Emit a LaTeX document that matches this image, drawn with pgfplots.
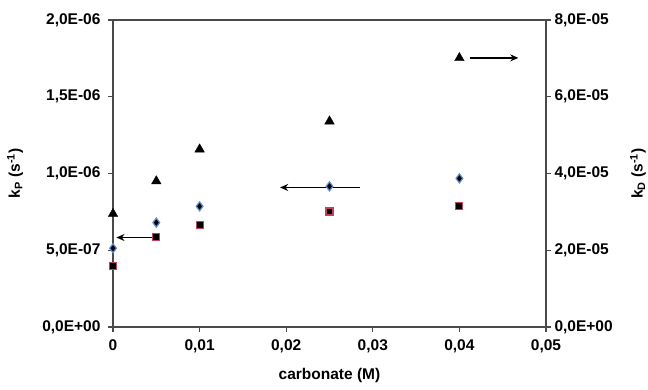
\documentclass[border=0pt]{standalone}
\usepackage{pgfplots}
\pgfplotsset{compat=1.18}
\usepackage{fontspec}
\setmainfont{Liberation Sans}
\usetikzlibrary{arrows.meta}
\definecolor{axgray}{HTML}{4A4A4A}
\definecolor{dblue}{HTML}{5B8FD0}
\definecolor{sqred}{HTML}{C04060}
\begin{document}
\begin{tikzpicture}
\pgfplotsset{every axis/.append style={
  scale only axis, width=433pt, height=307pt,
  xmin=0, xmax=0.05,
  scaled ticks=false,
  axis line style={axgray, line width=1.5pt},
  every tick/.style={axgray, line width=1.2pt},
  major tick length=5pt,
  tick align=outside,
  tick label style={font=\fontsize{15.5}{17}\selectfont\bfseries},
  label style={font=\fontsize{15.5}{17}\selectfont\bfseries},
}}
\begin{axis}[
  axis y line*=left, axis x line*=bottom,
  ymin=0, ymax=2e-6,
  ytick={0,5e-7,1e-6,1.5e-6,2e-6},
  yticklabels={{0,0E+00},{5,0E-07},{1,0E-06},{1,5E-06},{2,0E-06}},
  xtick={0,0.01,0.02,0.03,0.04,0.05},
  xticklabels={0,{0,01},{0,02},{0,03},{0,04},{0,05}},
  yticklabel style={xshift=-4pt},
  xticklabel style={yshift=-4pt},
  xlabel={carbonate (M)},
  ylabel={k\textsubscript{P} (s\textsuperscript{-1})},
  ylabel style={at={(rel axis cs:-0.2263,0.5)}, anchor=center},
  xlabel style={at={(rel axis cs:0.5,-0.1596)}, anchor=center},
  clip=false,
]
\coordinate (bl) at (axis cs:-0.01305,-0.4104e-6);
\coordinate (tr) at (axis cs:0.06178,2.1303e-6);
\addplot[only marks, mark=diamond*, mark size=4.5pt, mark options={fill=black, draw=dblue, line width=1.2pt}]
  coordinates {(0,0.513e-6) (0.005,0.68e-6) (0.01,0.786e-6) (0.025,0.916e-6) (0.04,0.968e-6)};
\addplot[only marks, mark=square*, mark size=3.5pt, mark options={fill=black, draw=sqred, line width=1.2pt}]
  coordinates {(0,0.396e-6) (0.005,0.584e-6) (0.01,0.662e-6) (0.025,0.753e-6) (0.04,0.786e-6)};
\draw[-{Stealth[length=8pt,width=7pt]}, line width=1.5pt] (axis cs:0.0054,0.583e-6) -- (axis cs:0.0004,0.583e-6);
\draw[-{Stealth[length=8pt,width=7pt]}, line width=1.5pt] (axis cs:0.0285,0.909e-6) -- (axis cs:0.0193,0.909e-6);
\draw[-{Stealth[length=8pt,width=7pt]}, line width=1.5pt] (axis cs:0.0412,1.753e-6) -- (axis cs:0.0468,1.753e-6);
\end{axis}
\begin{axis}[
  axis y line*=right, axis x line*=top,
  xtick=\empty,
  ymin=0, ymax=8e-5,
  ytick={0,2e-5,4e-5,6e-5,8e-5},
  yticklabels={{0,0E+00},{2,0E-05},{4,0E-05},{6,0E-05},{8,0E-05}},
  yticklabel style={xshift=0pt},
  ylabel={k\textsubscript{D} (s\textsuperscript{-1})},
  ylabel style={at={(rel axis cs:1.2125,0.5)}, anchor=center},
]
\addplot[only marks, mark=triangle*, mark size=5.5pt, mark options={fill=black, draw=black}]
  coordinates {(0,2.95e-5) (0.005,3.8e-5) (0.01,4.63e-5) (0.025,5.36e-5) (0.04,7.01e-5)};
\end{axis}
\pgfresetboundingbox
\path[use as bounding box] (bl) rectangle (tr);
\end{tikzpicture}
\end{document}
